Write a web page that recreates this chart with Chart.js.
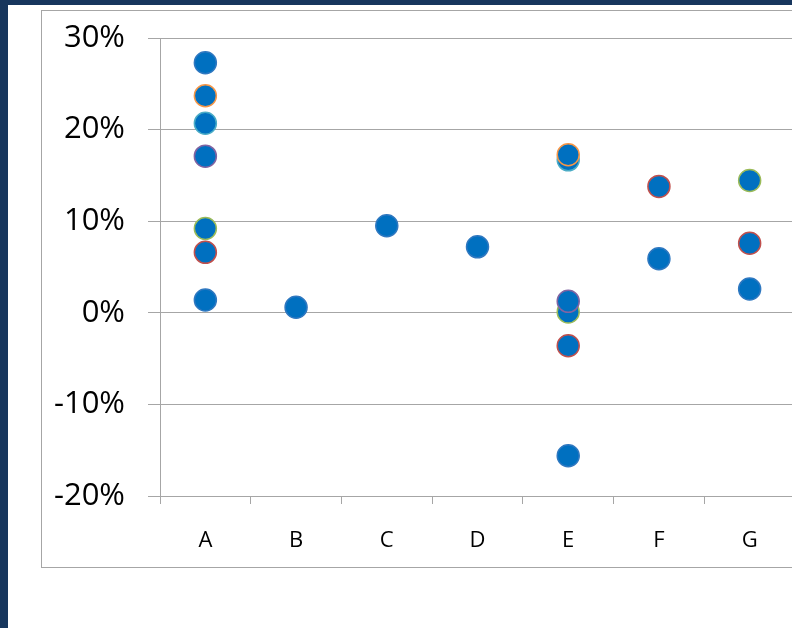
<!DOCTYPE html>
<html>
<head>
<meta charset="utf-8">
<script src="https://cdn.jsdelivr.net/npm/chart.js@4.4.1/dist/chart.umd.min.js"></script>
<style>
  html, body { margin: 0; padding: 0; width: 792px; height: 628px; overflow: hidden; background: #fff; }
  #topband { position: absolute; left: 0; top: 0; width: 792px; height: 5px; background: #17365d; }
  #leftband { position: absolute; left: 0; top: 0; width: 8px; height: 628px; background: #17365d; }
  #box { position: absolute; left: 41px; top: 10px; width: 800px; height: 556px; border: 1px solid #a6a6a6; }
  #wrap { position: absolute; left: 42px; top: 11px; width: 753px; height: 555px; }
</style>
</head>
<body>
<div id="topband"></div>
<div id="leftband"></div>
<div id="box"></div>
<div id="wrap"><canvas id="chart"></canvas></div>
<script>
// categories and series (values in %)
const categories = ['A', 'B', 'C', 'D', 'E', 'F', 'G'];
const seriesOrange = [23.7, null, null, null, 17.25, null, null];
const seriesPurple = [17.1, null, null, null, 1.25, null, null];
const seriesTeal = [20.7, null, null, null, 16.7, null, null];
const seriesGreen = [9.2, null, null, null, 0.1, null, 14.45];
const seriesRed = [6.6, null, null, null, -3.6, 13.8, 7.6];
const seriesBlue = [27.3, 0.6, 9.5, 7.2, -15.6, 5.9, 2.6];
const seriesBlue2 = [1.4, null, null, null, null, null, null];
const yTicks = [-20, -10, 0, 10, 20, 30];

const FILL = '#0070c0';

function pointSet(label, values, border) {
  return {
    label: label,
    data: values,
    showLine: false,
    pointRadius: 11,
    pointHoverRadius: 11,
    pointBackgroundColor: FILL,
    pointBorderColor: border,
    pointBorderWidth: 1.5,
    borderColor: border,
    backgroundColor: FILL,
  };
}

const data = {
  labels: categories,
  datasets: [
    pointSet('Series 6', seriesOrange, '#f79646'),
    pointSet('Series 4', seriesPurple, '#8064a2'),
    pointSet('Series 2', seriesRed, '#c0504d'),
    pointSet('Series 5', seriesTeal, '#4bacc6'),
    pointSet('Series 3', seriesGreen, '#9bbb59'),
    pointSet('Series 1', seriesBlue, '#2f78c0'),
    pointSet('Series 7', seriesBlue2, '#2f78c0'),
  ],
};

const config = {
  type: 'line',
  data: data,
  options: {
    responsive: true,
    maintainAspectRatio: false,
    animation: false,
    layout: { autoPadding: false, padding: { top: 27, right: 0, bottom: 0, left: 0 } },
    plugins: {
      legend: { display: false },
      tooltip: { enabled: false },
    },
    scales: {
      x: {
        type: 'category',
        offset: true,
        grid: {
          offset: true,
          drawOnChartArea: false,
          drawTicks: true,
          tickLength: 8,
          color: '#a6a6a6',
        },
        border: { display: true, color: '#a6a6a6' },
        ticks: {
          color: '#000',
          font: { family: 'Open Sans', size: 22 },
          padding: 24,
        },
        afterFit: function (s) {
          s.height = 70;
          s.paddingLeft = 0;
          s.paddingRight = 0;
        },
      },
      y: {
        min: yTicks[0],
        max: yTicks[yTicks.length - 1],
        afterBuildTicks: function (s) {
          s.ticks = yTicks.map((v) => ({ value: v }));
        },
        grid: {
          color: '#a6a6a6',
          tickLength: 12,
        },
        border: { display: true, color: '#a6a6a6' },
        ticks: {
          color: '#000',
          font: { family: 'Open Sans', size: 31 },
          padding: 23,
          callback: function (value) {
            return value + '%';
          },
        },
        afterFit: function (s) {
          s.width = 118;
          s.paddingTop = 0;
          s.paddingBottom = 0;
        },
      },
    },
  },
};

new Chart(document.getElementById('chart'), config);
</script>
</body>
</html>
